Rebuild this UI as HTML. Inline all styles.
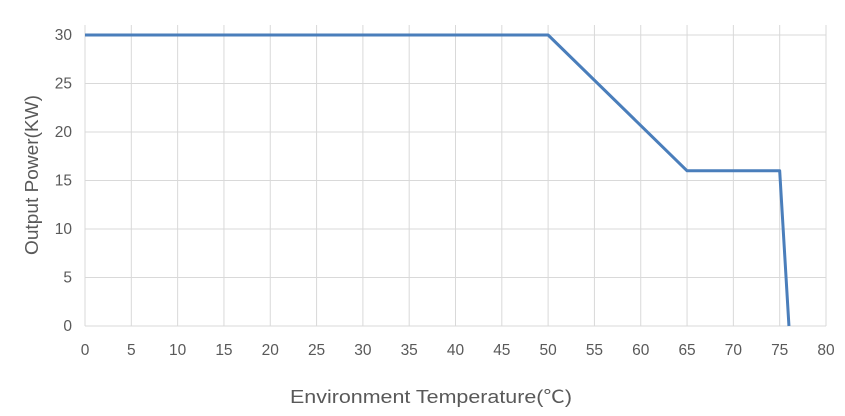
<!DOCTYPE html>
<html><head><meta charset="utf-8"><style>
body{margin:0;background:#fff;}
svg{display:block;font-family:"Liberation Sans","Noto Sans CJK SC",sans-serif;}
</style></head><body>
<svg id="chart" width="845" height="416"></svg>
<script>
const xTicks=[0,5,10,15,20,25,30,35,40,45,50,55,60,65,70,75,80];
const yTicks=[0,5,10,15,20,25,30];
const tempValues=[0,50,65,75,76];
const powerValues=[30,30,16,16,0];
const NS="http://www.w3.org/2000/svg";
const svg=document.getElementById('chart');
const X0=85,X1=826,Y0=326,Y1=35;
const xs=v=>X0+(v-0)/(80-0)*(X1-X0);
const ys=v=>Y0-(v-0)/(30-0)*(Y0-Y1);
function mk(t,a){const e=document.createElementNS(NS,t);for(const k in a)e.setAttribute(k,a[k]);svg.appendChild(e);return e;}
xTicks.forEach(t=>{
 const l=mk('line',{x1:xs(t),x2:xs(t),y1:Y1-10,y2:Y0,stroke:'#d9d9d9','stroke-width':1});
 
 
 const tx=mk('text',{x:xs(t),y:Y0+29,'text-anchor':'middle','font-size':15.5,fill:'#595959'});
 tx.textContent=t;
 
 
});
yTicks.forEach(t=>{
 const l=mk('line',{x1:X0,x2:X1,y1:ys(t),y2:ys(t),stroke:'#d9d9d9','stroke-width':1});
 
 
 const tx=mk('text',{x:X0-13,y:ys(t)+5,'text-anchor':'end','font-size':15.5,fill:'#595959'});
 tx.textContent=t;
 
 
});
const ax=mk('line',{x1:X0,x2:X1,y1:Y0,y2:Y0,stroke:'#d9d9d9','stroke-width':1});


const pts=tempValues.map((v,i)=>xs(v)+','+ys(powerValues[i])).join(' ');
const pl=mk('polyline',{points:pts,fill:'none',stroke:'#4a7ebb','stroke-width':3,'stroke-linejoin':'round'});


const xt=mk('text',{x:290,y:403,'font-size':18,fill:'#595959',textLength:282,lengthAdjust:'spacingAndGlyphs'});
xt.textContent='Environment Temperature(℃)';


const yt=mk('text',{x:38,y:175,'text-anchor':'middle','font-size':18,fill:'#595959',transform:'rotate(-90 38 175)',textLength:160,lengthAdjust:'spacingAndGlyphs'});
yt.textContent='Output Power(KW)';


</script>
</body></html>
